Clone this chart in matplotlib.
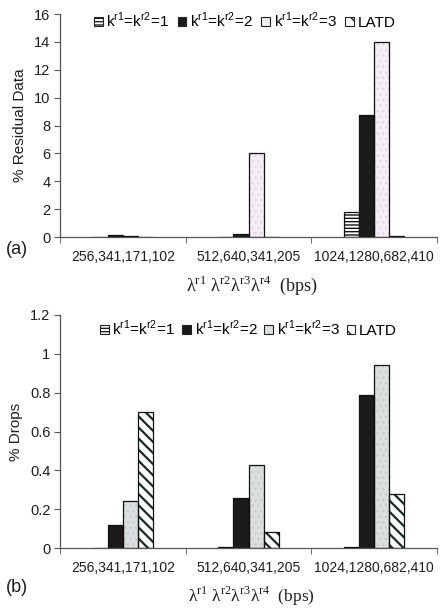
import matplotlib
matplotlib.use("Agg")
import matplotlib.pyplot as plt
from matplotlib.patches import Patch
import numpy as np

plt.rcParams["font.family"] = ["Liberation Sans", "DejaVu Sans"]
plt.rcParams["mathtext.fontset"] = "custom"
plt.rcParams["mathtext.rm"] = "Liberation Serif"
plt.rcParams["mathtext.sf"] = "Liberation Sans"
plt.rcParams["hatch.linewidth"] = 1.0

# Traffic rate groups (bps)
categories = ["256,341,171,102", "512,640,341,205", "1024,1280,682,410"]
series_names = [r"k$^{\mathsf{r1}}$=k$^{\mathsf{r2}}$=1",
                r"k$^{\mathsf{r1}}$=k$^{\mathsf{r2}}$=2",
                r"k$^{\mathsf{r1}}$=k$^{\mathsf{r2}}$=3",
                "LATD"]

# (a) % residual data
residual_k1 = [0.0, 0.0, 1.8]
residual_k2 = [0.12, 0.18, 8.75]
residual_k3 = [0.06, 6.0, 14.0]
residual_latd = [0.02, 0.02, 0.05]

# (b) % drops
drops_k1 = [0.0, 0.003, 0.003]
drops_k2 = [0.12, 0.26, 0.79]
drops_k3 = [0.24, 0.43, 0.94]
drops_latd = [0.70, 0.08, 0.28]

W, H = 440, 609
fig = plt.figure(figsize=(W / 100, H / 100), dpi=100)

axis_col = "#555555"
text_col = "#1e1e1e"
bar_w = 0.12
offsets = np.array([-1.5, -0.5, 0.5, 1.5]) * bar_w


def draw_panel(ax, values, k3_face, k3_dot, ylim, yticks, ylabel):
    x = np.arange(len(categories))
    styles = [
        dict(face="white", hatch="-----", hcol="#111111", lw=1.0, leg="-----"),
        dict(face="#1c1a1a", hatch=None, hcol=None, lw=0, leg=None),
        dict(face=k3_face, hatch="...", hcol=k3_dot, lw=0.8, leg=None),
        dict(face="white", hatch="\\\\\\", hcol="#1a2a22", lw=1.6, leg="\\\\"),
    ]
    handles = []
    for i, (vals, st) in enumerate(zip(values, styles)):
        pos = x + offsets[i]
        if st["hatch"]:
            b = ax.bar(pos, vals, bar_w, color=st["face"], edgecolor=st["hcol"],
                       hatch=st["hatch"], linewidth=0, zorder=2)
            for p in b:
                p._hatch_linewidth = st["lw"]
        else:
            ax.bar(pos, vals, bar_w, color=st["face"], linewidth=0, zorder=2)
        ax.bar(pos, vals, bar_w, fill=False, edgecolor="#111111",
               linewidth=0.9, zorder=3)
        handles.append(Patch(facecolor=st["face"], edgecolor="#222222",
                             hatch=st["leg"], linewidth=0.8,
                             label=series_names[i]))
    ax.set_xlim(-0.5, 2.5)
    ax.set_ylim(*ylim)
    ax.set_yticks(yticks)
    ax.set_yticklabels([f"{v:g}" for v in yticks])
    ax.set_xticks(x)
    ax.set_xticklabels(categories)
    ax.set_xticks([-0.5, 0.5, 1.5, 2.5], minor=True)
    ax.tick_params(axis="x", which="major", length=0, pad=9, labelsize=10,
                   colors=text_col)
    ax.tick_params(axis="x", which="minor", length=4, color=axis_col)
    ax.tick_params(axis="y", length=4, color=axis_col, labelsize=10.5,
                   labelcolor=text_col, pad=3)
    for s in ("top", "right"):
        ax.spines[s].set_visible(False)
    for s in ("left", "bottom"):
        ax.spines[s].set_color(axis_col)
        ax.spines[s].set_linewidth(0.9)
    ax.set_ylabel(ylabel, fontsize=11, color=text_col, labelpad=5)
    return handles


# Panel (a)
ax1 = fig.add_axes([60 / W, 1 - 237 / H, 377 / W, 223 / H])
h1 = draw_panel(ax1, [residual_k1, residual_k2, residual_k3, residual_latd],
                "#f4eff4", "#e0d2e0", (0, 16), [0, 2, 4, 6, 8, 10, 12, 14, 16],
                "% Residual Data")
ax1.legend(handles=h1, loc="center", bbox_to_anchor=(0.49, 0.972), ncol=4,
           frameon=False, fontsize=11, handlelength=0.55, handleheight=0.55,
           handletextpad=0.25, columnspacing=0.55, borderpad=0)

# Panel (b)
ax2 = fig.add_axes([60 / W, 1 - 548 / H, 377 / W, 233 / H])
h2 = draw_panel(ax2, [drops_k1, drops_k2, drops_k3, drops_latd],
                "#dcdfdf", "#c4c8c8", (0, 1.2), [0, 0.2, 0.4, 0.6, 0.8, 1, 1.2],
                "% Drops")
ax2.legend(handles=h2, loc="center", bbox_to_anchor=(0.50, 0.944), ncol=4,
           frameon=False, fontsize=11, handlelength=0.55, handleheight=0.55,
           handletextpad=0.25, columnspacing=0.45, borderpad=0)

xlab = "λ$^{\\mathrm{r1}}$ λ$^{\\mathrm{r2}}$λ$^{\\mathrm{r3}}$λ$^{\\mathrm{r4}}$  (bps)"
serif = ["Liberation Serif", "DejaVu Serif"]
fig.text(252 / W, 1 - 285 / H, xlab, ha="center", va="center",
         fontsize=13, family=serif, color=text_col)
fig.text(251 / W, 1 - 596 / H, xlab, ha="center", va="center",
         fontsize=12.5, family=serif, color=text_col)

fig.text(6 / W, 1 - 250 / H, "(a)", ha="left", va="center", fontsize=13,
         color=text_col)
fig.text(6 / W, 1 - 587 / H, "(b)", ha="left", va="center", fontsize=13,
         color=text_col)

fig.savefig("out.png", dpi=100)
